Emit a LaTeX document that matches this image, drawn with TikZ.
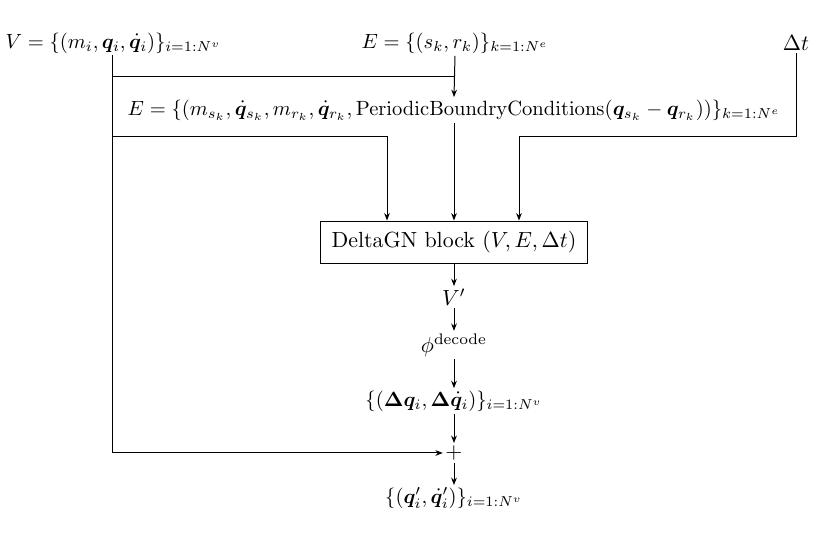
\documentclass[tikz,border=0pt]{standalone}
\usepackage{amsmath,amssymb,bm}
\usetikzlibrary{arrows.meta}
\begin{document}
\begin{tikzpicture}[x=0.4566pt,y=-0.4566pt,
  lbl/.style={inner sep=1pt},
  mlbl/.style={inner sep=1pt,scale=0.94},
  blk/.style={draw,inner xsep=5pt,minimum height=19.6pt},
  arr/.style={-{Stealth[length=3.4pt,width=2.6pt]}},
  every path/.style={line width=0.45pt}]
\useasboundingbox (0,0) rectangle (830,546);
\node[mlbl,anchor=west] (V) at (3,43) {$V=\{(m_i,\bm q_i,\dot{\bm q}_i)\}_{i=1:N^v}$};
\node[mlbl] (E) at (455,43) {$E=\{(s_k,r_k)\}_{k=1:N^e}$};
\node[lbl] (dt) at (796,43) {$\Delta t$};
\node[mlbl] (E2) at (454,110) {$E=\{(m_{s_k},\dot{\bm q}_{s_k},m_{r_k},\dot{\bm q}_{r_k},\mathrm{PeriodicBoundryConditions}(\bm q_{s_k}-\bm q_{r_k}))\}_{k=1:N^e}$};
\node[blk] (B) at (454,242.5) {DeltaGN block $(V,E,\Delta t)$};
\node[lbl] (Vp) at (454,297) {$V'$};
\node[lbl] (phi) at (454,345) {$\phi^{\text{decode}}$};
\node[mlbl] (dq) at (454,401) {$\{(\bm\Delta\bm q_i,\bm\Delta\dot{\bm q}_i)\}_{i=1:N^v}$};
\node[lbl] (plus) at (454,453) {$+$};
\node[mlbl] (out) at (454,498) {$\{(\bm q_i',\dot{\bm q}_i')\}_{i=1:N^v}$};
\coordinate (j1) at (455,77);
\coordinate (j2) at (112,137);
\coordinate (c1) at (387,137);
\coordinate (c3) at (519,137);
\coordinate (vs) at (112,55);
% connectors
\draw[arr] (vs) |- (plus.west);
\draw (vs) |- (j1);
\draw[arr] (E.south) -- (E2.north);
\draw[arr] (j2) -- (c1) -- (c1 |- B.north);
\draw[arr] (E2.south) -- (B.north);
\draw[arr] (dt.south) |- (c3) -- (c3 |- B.north);
\draw[arr] (B.south) -- (Vp.north);
\draw[arr] (Vp.south) -- (phi.north);
\draw[arr] (phi.south) -- (dq.north);
\draw[arr] (dq.south) -- (plus.north);
\draw[arr] (plus.south) -- (out.north);
\end{tikzpicture}
\end{document}
